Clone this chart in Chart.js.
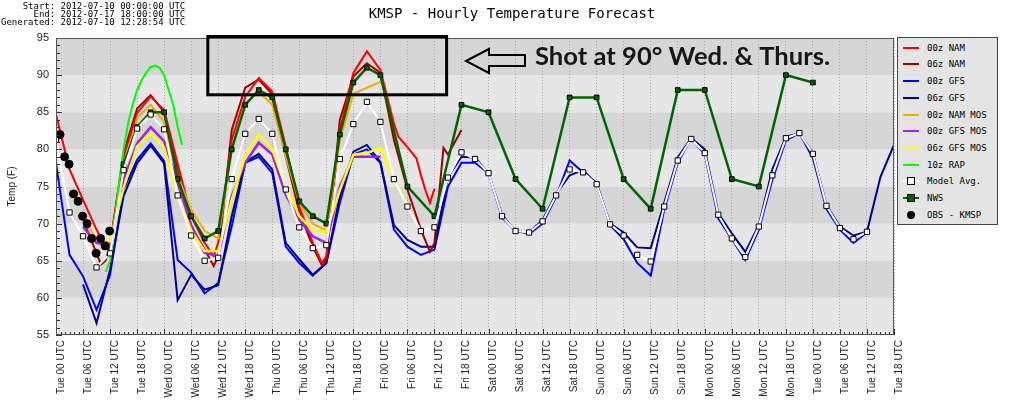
<!DOCTYPE html>
<html>
<head>
<meta charset="utf-8">
<script src="https://cdn.jsdelivr.net/npm/chart.js@4.4.0/dist/chart.umd.min.js"></script>
<style>
  html, body { margin: 0; padding: 0; background: #fff; }
  #wrap { position: relative; width: 1024px; height: 419px; overflow: hidden; }
  #chart { position: absolute; left: 0; top: 0; }
  .mono { position: absolute; font-family: "DejaVu Sans Mono", monospace; color: #000; white-space: pre; }
  #meta { left: 1px; top: 2px; font-size: 9px; line-height: 8px; }
  #title { left: 0; top: 5px; width: 1024px; text-align: center; font-size: 14px; line-height: 16px; }
  #legend { position: absolute; left: 897px; top: 37px; width: 99px; height: 186px; border: 1px solid #444; background: #e4e4e4; }
  .row { position: absolute; left: 0; width: 99px; height: 16px; }
  .row .line { position: absolute; left: 5px; top: 7px; width: 16px; height: 2px; }
  .row .sq { position: absolute; left: 9px; top: 4px; width: 6px; height: 6px; border: 1px solid #000; }
  .row .dot { position: absolute; left: 9px; top: 4px; width: 8px; height: 8px; border-radius: 50%; background: #000; }
  .row .lbl { position: absolute; left: 29px; top: 2px; font-family: "DejaVu Sans Mono", monospace; font-size: 9px; line-height: 12px; color: #000; white-space: pre; }
</style>
</head>
<body>
<div id="wrap">
  <canvas id="chart" width="1024" height="419"></canvas>
  <div id="meta" class="mono">    Start: 2012-07-10 00:00:00 UTC
      End: 2012-07-17 18:00:00 UTC
Generated: 2012-07-10 12:28:54 UTC</div>
  <div id="title" class="mono">KMSP - Hourly Temperature Forecast</div>
  <div id="legend"></div>
</div>
<script>
// --- Data (hours after Tue 00 UTC, temps in F) ---
const dayNames = ['Tue', 'Wed', 'Thu', 'Fri', 'Sat', 'Sun', 'Mon', 'Tue'];
const hourNames = ['00', '06', '12', '18'];

const obsHours = [0.9, 1.9, 2.9, 3.9, 4.9, 5.9, 6.9, 7.9, 8.9, 9.9, 10.9, 11.9];
const obsTemps = [82, 79, 78, 74, 73, 71, 70, 68, 66, 68, 67, 69];

const nam00Hours = [0, 3, 6, 9, 10, 11, 12, 15, 18, 21, 24, 27, 30, 33, 35, 36, 39, 42, 45, 48, 51, 54, 57, 59, 60,
  63, 66, 69, 72, 75, 76, 78, 80, 81, 82, 83, 84];
const nam00Temps = [84.7, 77.3, 73.2, 69.2, 68.0, 66.8, 67.2, 79.0, 84.9, 87.1, 85.3, 78.1, 71.0, 67.4, 65.6, 67.4,
  81.3, 87.1, 89.6, 87.8, 80.4, 72.3, 67.4, 64.7, 65.6, 82.6, 90.3, 93.2, 90.7, 83.5, 81.7, 80.3, 78.8, 76.5, 74.5, 72.8, 74.7];

const nam06Hours = [6, 9, 10, 11, 12, 15, 18, 21, 24, 27, 30, 33, 35, 36, 39, 42, 45, 48, 51, 54, 57, 59, 60,
  63, 66, 69, 72, 75, 78, 81, 83, 84, 86, 87, 90];
const nam06Temps = [70.5, 66.0, 64.5, 65.0, 67.0, 79.5, 85.5, 87.3, 85.0, 77.2, 69.6, 66.5, 64.3, 65.6, 82.6, 88.3,
  89.4, 87.4, 79.0, 71.6, 66.9, 64.4, 65.2, 84.0, 89.8, 91.6, 90.3, 81.3, 74.6, 69.2, 66.2, 67.4, 80.2, 79.3, 82.6];

const gfs00Hours = [0, 3, 6, 9, 12, 15, 18, 21, 24, 27, 30, 33, 36, 39, 42, 45, 48, 51, 54, 57, 60, 63, 66, 69, 72,
  75, 78, 81, 84, 87, 90, 93, 96, 99, 102, 105, 108, 111, 114, 117, 120, 123, 126, 129, 132, 135, 138, 141, 144,
  147, 150, 153, 156, 159, 162, 165, 168, 171, 174, 177, 180];
const gfs00Temps = [78.1, 65.8, 62.9, 58.4, 63.1, 74.6, 78.6, 80.8, 78.4, 65.1, 63.4, 60.6, 62.0, 69.6, 78.2, 79.0,
  76.8, 66.9, 64.7, 63.0, 64.7, 72.8, 79.3, 80.0, 78.2, 69.2, 66.9, 65.8, 66.5, 75.0, 78.2, 78.2, 76.8, 70.8, 69.1,
  68.6, 70.0, 73.6, 78.5, 76.9, 75.5, 69.8, 67.9, 64.7, 63.0, 71.9, 78.2, 81.5, 79.3, 70.7, 67.9, 65.1, 69.2, 75.9,
  81.2, 82.2, 78.8, 72.0, 69.2, 67.4, 68.8];

const gfs06Hours = [6, 9, 12, 15, 18, 21, 24, 27, 30, 33, 36, 39, 42, 45, 48, 51, 54, 57, 60, 63, 66, 69, 72, 75,
  78, 81, 84, 87, 90, 93, 96, 99, 102, 105, 108, 111, 114, 117, 120, 123, 126, 129, 132, 135, 138, 141, 144, 147,
  150, 153, 156, 159, 162, 165, 168, 171, 174, 177, 180, 183, 186];
const gfs06Temps = [61.8, 56.6, 63.8, 73.7, 78.1, 80.5, 78.1, 59.7, 63.1, 61.1, 61.7, 71.0, 78.3, 79.4, 77.3, 67.4,
  65.2, 63.1, 64.7, 73.7, 79.7, 80.6, 78.3, 69.8, 67.8, 66.9, 66.9, 76.3, 79.0, 78.9, 76.8, 71.2, 68.9, 68.8, 70.5,
  74.0, 76.5, 77.2, 75.3, 70.0, 68.8, 66.8, 66.7, 72.8, 78.9, 81.5, 80.0, 71.4, 68.7, 66.2, 69.8, 77.3, 81.7, 82.2,
  79.5, 72.5, 69.6, 68.4, 68.9, 76.3, 80.6];

const mosHours = [6, 9, 12, 15, 18, 21, 24, 27, 30, 33, 36, 39, 42, 45, 48, 51, 54, 57, 60, 63, 66, 69, 72];
const namMosTemps = [70.5, 68.0, 67.4, 77.0, 84.3, 86.0, 83.7, 76.4, 71.9, 69.0, 68.0, 80.0, 86.1, 87.8, 86.0, 79.0,
  72.8, 70.0, 69.1, 81.3, 87.5, 88.3, 89.1];
const gfsMosTemps = [69.6, 67.4, 67.0, 76.0, 80.8, 83.0, 81.1, 75.5, 69.8, 66.1, 65.6, 73.7, 78.2, 80.9, 79.3, 73.9,
  70.5, 68.3, 67.4, 75.0, 79.0, 79.0, 79.0];

const gfs06MosHours = [12, 15, 18, 21, 24, 27, 30, 33, 36, 39, 42, 45, 48, 51, 54, 57, 60, 63, 66, 69, 72, 75, 78];
const gfs06MosTemps = [67.5, 74.8, 80.4, 82.2, 80.2, 73.6, 69.1, 66.3, 66.3, 73.2, 79.1, 82.0, 80.0, 75.0, 71.0,
  69.1, 68.9, 74.5, 79.3, 79.5, 80.2, 76.0, 72.5];

const rapHours = [11, 12, 13, 14, 15, 16, 17, 18, 19, 20, 21, 22, 23, 24, 25, 26, 27, 28];
const rapTemps = [63.5, 65, 70, 75.5, 80, 83.5, 86, 88, 89.3, 90.3, 91.1, 91.3, 91, 90, 88, 86, 83, 80.6];

const avgHours = gfs00Hours;
const avgTemps = [81.3, 71.5, 68.3, 64.1, 66.0, 77.2, 82.8, 84.7, 82.7, 73.8, 68.4, 65.0, 65.4, 76.0, 82.1, 84.1,
  82.1, 74.6, 69.5, 66.7, 67.1, 78.7, 83.4, 86.4, 83.7, 76.0, 72.3, 69.0, 69.5, 76.2, 79.6, 78.7, 76.8, 71.0, 69.0,
  68.8, 70.3, 73.8, 77.3, 76.9, 75.3, 69.9, 68.4, 65.8, 64.9, 72.3, 78.5, 81.4, 79.5, 71.2, 68.0, 65.5, 69.6, 76.5,
  81.5, 82.2, 79.4, 72.4, 69.4, 67.9, 68.9];

const nwsHours = [15, 18, 21, 24, 27, 30, 33, 36, 39, 42, 45, 48, 51, 54, 57, 60, 63, 66, 69, 72, 78, 84, 90, 96,
  102, 108, 114, 120, 126, 132, 138, 144, 150, 156, 162, 168];
const nwsTemps = [78, 83, 85, 85, 76, 71, 68, 69, 80, 86, 88, 87, 80, 73, 71, 70, 82, 89, 91, 90, 75, 71, 86, 85,
  76, 72, 87, 87, 76, 72, 88, 88, 76, 75, 90, 89];

// annotation box drawn by hand on the original image (hours / temps)
const boxHours = [33.7, 86.7];
const boxTemps = [95.2, 87.35];
const noteText = 'Shot at 90\u00b0 Wed. & Thurs.';

// --- Helpers ---
const pts = (hrs, vals) => hrs.map((h, i) => ({ x: h, y: vals[i] }));

function lineSet(label, hrs, vals, color, width, order) {
    return {
        label: label, data: pts(hrs, vals), borderColor: color, backgroundColor: color,
        borderWidth: width, pointRadius: 0, tension: 0, order: order
    };
}

const datasets = [
    lineSet('00z NAM', nam00Hours, nam00Temps, '#ff0000', 2, 7),
    lineSet('06z NAM', nam06Hours, nam06Temps, '#a00000', 2, 8),
    lineSet('00z GFS', gfs00Hours, gfs00Temps, '#0000ff', 2, 10),
    lineSet('06z GFS', gfs06Hours, gfs06Temps, '#000090', 2, 9),
    lineSet('00z NAM MOS', mosHours, namMosTemps, '#ffa500', 2, 6),
    lineSet('00z GFS MOS', mosHours, gfsMosTemps, '#a020f0', 2.5, 5),
    lineSet('06z GFS MOS', gfs06MosHours, gfs06MosTemps, '#ffff00', 2.5, 4),
    lineSet('10z RAP', rapHours, rapTemps, '#00ff00', 2, 3),
    {
        label: 'Model Avg.', data: pts(avgHours, avgTemps), borderColor: '#ffffff', borderWidth: 2,
        pointStyle: 'rect', pointRadius: 3.7, pointBackgroundColor: '#ffffff', pointBorderColor: '#000000',
        pointBorderWidth: 1, order: 1
    },
    {
        label: 'NWS', data: pts(nwsHours, nwsTemps), borderColor: '#006400', borderWidth: 2.5,
        pointStyle: 'rect', pointRadius: 3.3, pointBackgroundColor: '#006400', pointBorderColor: '#000000',
        pointBorderWidth: 1, order: 2
    },
    {
        label: 'OBS - KMSP', data: pts(obsHours, obsTemps), showLine: false, pointStyle: 'circle',
        pointRadius: 4, pointBackgroundColor: '#000000', pointBorderColor: '#000000', order: 0
    }
];

// --- Legend (HTML) ---
const legendBox = document.getElementById('legend');
datasets.forEach((ds, i) => {
    const row = document.createElement('div');
    row.className = 'row';
    row.style.top = (1.7 + 16.7 * i) + 'px';
    if (ds.showLine !== false) {
        const ln = document.createElement('div');
        ln.className = 'line';
        ln.style.background = ds.label === 'Model Avg.' ? '#ffffff' : ds.borderColor;
        row.appendChild(ln);
    }
    if (ds.pointStyle === 'rect') {
        const sq = document.createElement('div');
        sq.className = 'sq';
        sq.style.background = ds.pointBackgroundColor;
        row.appendChild(sq);
    } else if (ds.pointStyle === 'circle') {
        const dot = document.createElement('div');
        dot.className = 'dot';
        row.appendChild(dot);
    }
    const lbl = document.createElement('div');
    lbl.className = 'lbl';
    lbl.textContent = ds.label;
    row.appendChild(lbl);
    legendBox.appendChild(row);
});

// --- Backdrop / annotations plugin ---
const backdrop = {
    id: 'backdrop',
    beforeDraw(chart) {
        const { ctx, chartArea: a, scales: { y } } = chart;
        ctx.save();
        for (let v = 55; v < 95; v += 5) {
            const top = y.getPixelForValue(v + 5), bot = y.getPixelForValue(v);
            ctx.fillStyle = ((v - 55) / 5) % 2 === 1 ? '#d6d6d6' : '#e6e6e6';
            ctx.fillRect(a.left, top, a.right - a.left, bot - top);
        }
        ctx.restore();
    },
    afterDraw(chart) {
        const { ctx, chartArea: a, scales: { x, y } } = chart;
        ctx.save();
        // minor ticks
        ctx.strokeStyle = '#333';
        ctx.lineWidth = 1;
        ctx.beginPath();
        for (let h = 0; h <= 186; h++) {
            const px = Math.round(x.getPixelForValue(h)) + 0.5;
            const len = h % 6 === 0 ? 6 : 3;
            ctx.moveTo(px, a.bottom);
            ctx.lineTo(px, a.bottom - len);
        }
        for (let v = 55; v <= 95; v++) {
            const py = Math.round(y.getPixelForValue(v)) + 0.5;
            ctx.moveTo(a.left, py);
            ctx.lineTo(a.left + (v % 5 === 0 ? 6 : 4), py);
        }
        ctx.stroke();
        // frame
        ctx.strokeStyle = '#555';
        ctx.strokeRect(a.left + 0.5, a.top + 0.5, a.right - a.left - 1, a.bottom - a.top - 1);
        // hand drawn box
        ctx.strokeStyle = '#000';
        ctx.lineWidth = 3;
        const bx1 = x.getPixelForValue(boxHours[0]), bx2 = x.getPixelForValue(boxHours[1]);
        const by1 = y.getPixelForValue(boxTemps[0]), by2 = y.getPixelForValue(boxTemps[1]);
        ctx.strokeRect(bx1, by1, bx2 - bx1, by2 - by1);
        // arrow
        ctx.lineWidth = 2;
        ctx.beginPath();
        ctx.moveTo(466, 61);
        ctx.lineTo(489, 49);
        ctx.lineTo(489, 55);
        ctx.lineTo(525, 55);
        ctx.lineTo(525, 66);
        ctx.lineTo(489, 66);
        ctx.lineTo(489, 73);
        ctx.closePath();
        ctx.stroke();
        // note
        ctx.fillStyle = '#161616';
        ctx.font = 'bold 25px Lato, "Open Sans", sans-serif';
        ctx.textBaseline = 'alphabetic';
        const w = ctx.measureText(noteText).width;
        ctx.translate(535, 65);
        ctx.scale(295 / w, 1);
        ctx.fillText(noteText, 0, 0);
        ctx.restore();
    }
};

new Chart(document.getElementById('chart').getContext('2d'), {
    type: 'line',
    data: { datasets: datasets },
    options: {
        responsive: false,
        animation: false,
        devicePixelRatio: 1,
        layout: { padding: { top: 38, right: 130, left: 0, bottom: 0 } },
        plugins: { legend: { display: false }, tooltip: { enabled: false } },
        scales: {
            x: {
                type: 'linear', min: 0, max: 186,
                afterFit: (s) => { s.height = 84; },
                grid: { color: '#a8a8a8', lineWidth: 1, drawTicks: false },
                border: { display: false, dash: [1, 2] },
                ticks: {
                    stepSize: 6, autoSkip: false, maxRotation: 90, minRotation: 90,
                    labelOffset: 5, padding: 5, color: '#222',
                    font: { family: 'Liberation Sans, Arial, sans-serif', size: 10 },
                    callback: (v) => dayNames[Math.floor(v / 24)] + ' ' + hourNames[(v % 24) / 6] + ' UTC'
                }
            },
            y: {
                min: 55, max: 95,
                afterFit: (s) => { s.width = 56; },
                grid: { display: false, drawTicks: false },
                border: { display: false },
                title: {
                    display: true, text: 'Temp (F)', color: '#222',
                    font: { family: 'Liberation Sans, Arial, sans-serif', size: 10 },
                    padding: { top: 6, bottom: 0 }
                },
                ticks: {
                    stepSize: 5, padding: 7, color: '#222',
                    font: { family: 'Liberation Sans, Arial, sans-serif', size: 11 }
                }
            }
        }
    },
    plugins: [backdrop]
});
</script>
</body>
</html>
